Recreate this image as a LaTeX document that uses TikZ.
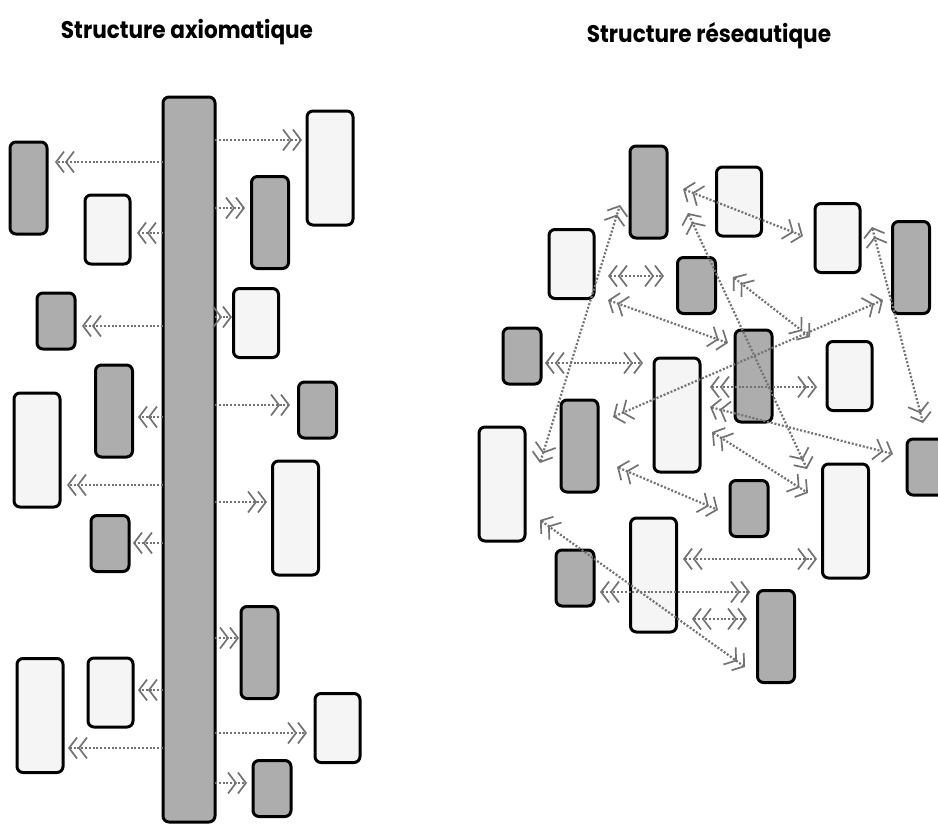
\documentclass[tikz,border=0pt]{standalone}
\usepackage{fontspec}
\setmainfont{Poppins}
\usetikzlibrary{arrows.meta}
\tikzset{
  card/.style={draw=black, line width=3pt, rounded corners=6pt, inner sep=0pt, outer sep=0pt},
  dark/.style={card, fill=black!32},
  pale/.style={card, fill=black!4},
  gs/.style={dark, minimum width=38pt, minimum height=56pt},
  gt/.style={dark, minimum width=37pt, minimum height=92pt},
  wm/.style={pale, minimum width=45pt, minimum height=69pt},
  wt/.style={pale, minimum width=46pt, minimum height=114pt},
  link/.style={draw=black!55, line width=2.2pt, dash pattern=on 2pt off 1.8pt,
    -{Straight Barb[length=8pt, width=21pt, line width=1.7pt, sep=0pt] Straight Barb[length=8pt, width=21pt, line width=1.7pt]}},
  dlink/.style={link,
    {Straight Barb[length=8pt, width=21pt, line width=1.7pt, sep=0pt] Straight Barb[length=8pt, width=21pt, line width=1.7pt]}-{Straight Barb[length=8pt, width=21pt, line width=1.7pt, sep=0pt] Straight Barb[length=8pt, width=21pt, line width=1.7pt]}},
  heading/.style={font=\bfseries\fontsize{24}{28}\selectfont, inner sep=0pt}
}
\begin{document}
\begin{tikzpicture}[x=1pt, y=-1pt]
\useasboundingbox (0,0) rectangle (938,825);

% headings
\node[heading] (h1) at (187,32) {\scalebox{0.9}[1]{Structure axiomatique}};
\node[heading] (h2) at (709,36) {\scalebox{0.9}[1]{Structure réseautique}};

% ---------- axiomatic structure ----------
\node[dark, minimum width=52pt, minimum height=725pt] (bar) at (189,459.5) {};

\node[gt] (l1) at (28.5,188) {};
\node[wm] (l2) at (107.5,229.5) {};
\node[gs] (l3) at (56,321) {};
\node[gt] (l4) at (114,411) {};
\node[wt] (l5) at (37,450) {};
\node[gs] (l6) at (110,543.5) {};
\node[wm] (l7) at (110.5,692.5) {};
\node[wt] (l8) at (40,715.5) {};

\node[wt] (r1) at (330,168) {};
\node[gt] (r2) at (270,222.5) {};
\node[wm] (r3) at (256,323) {};
\node[gs] (r4) at (317.5,410) {};
\node[wt] (r5) at (295.5,518) {};
\node[gt] (r6) at (259.5,652.5) {};
\node[wm] (r7) at (337.5,728) {};
\node[gs] (r8) at (272,788.5) {};

% arrow tips on the left of the bar
\coordinate (la1) at (55,162);
\coordinate (la2) at (137,233);
\coordinate (la3) at (82,326);
\coordinate (la4) at (138,417);
\coordinate (la5) at (67,485);
\coordinate (la6) at (133,543);
\coordinate (la7) at (138,690);
\coordinate (la8) at (68,748);
% arrow tips on the right of the bar
\coordinate (ra1) at (302,140);
\coordinate (ra2) at (245,208);
\coordinate (ra3) at (232,317);
\coordinate (ra4) at (290,405);
\coordinate (ra5) at (267,502);
\coordinate (ra6) at (239,638);
\coordinate (ra7) at (307,733);
\coordinate (ra8) at (247,783);

\foreach \i in {1,...,8} {
  \draw[link] (bar.west |- la\i) -- (la\i);
  \draw[link] (bar.east |- ra\i) -- (ra\i);
}

% ---------- network structure ----------
\node[gt] (n1) at (648.5,192) {};
\node[wm] (n2) at (739,201.5) {};
\node[wm] (n3) at (837.5,238) {};
\node[gt] (n4) at (911,267.5) {};
\node[wm] (n5) at (571.5,264) {};
\node[gs] (n6) at (696.5,285.5) {};
\node[gs] (n7) at (522,356) {};
\node[gt] (n8) at (753.5,376) {};
\node[wm] (n9) at (849.5,376) {};
\node[wt] (n10) at (677,415) {};
\node[gt] (n11) at (579.5,446) {};
\node[wt] (n12) at (502,484) {};
\node[gs] (n13) at (926,467) {};
\node[wt] (n14) at (845.5,521) {};
\node[gs] (n15) at (749,508.5) {};
\node[wt] (n16) at (653.5,575) {};
\node[gs] (n17) at (575,578) {};
\node[gt] (n18) at (776,636.5) {};

% link end points
\coordinate (a1) at (540,463);  \coordinate (b1) at (620,205);
\coordinate (a2) at (608,276);  \coordinate (b2) at (664,276);
\coordinate (a3) at (608,300);  \coordinate (b3) at (728,343);
\coordinate (a4) at (683,189);  \coordinate (b4) at (803,236);
\coordinate (a5) at (688,213);  \coordinate (b5) at (807,469);
\coordinate (a6) at (733,277);  \coordinate (b6) at (810,337);
\coordinate (a7) at (613,417);  \coordinate (b7) at (883,300);
\coordinate (a8) at (710,387);  \coordinate (b8) at (817,387);
\coordinate (a9) at (545,363);  \coordinate (b9) at (643,363);
\coordinate (a10) at (710,407); \coordinate (b10) at (893,454);
\coordinate (a11) at (712,432); \coordinate (b11) at (808,493);
\coordinate (a12) at (617,467); \coordinate (b12) at (718,510);
\coordinate (a13) at (872,227); \coordinate (b13) at (923,423);
\coordinate (a14) at (540,520); \coordinate (b14) at (745,667);
\coordinate (a15) at (683,559); \coordinate (b15) at (817,559);
\coordinate (a16) at (600,592); \coordinate (b16) at (750,592);
\coordinate (a17) at (692,619); \coordinate (b17) at (747,619);

\foreach \i in {1,...,17} {
  \draw[dlink] (a\i) -- (b\i);
}
\end{tikzpicture}
\end{document}
